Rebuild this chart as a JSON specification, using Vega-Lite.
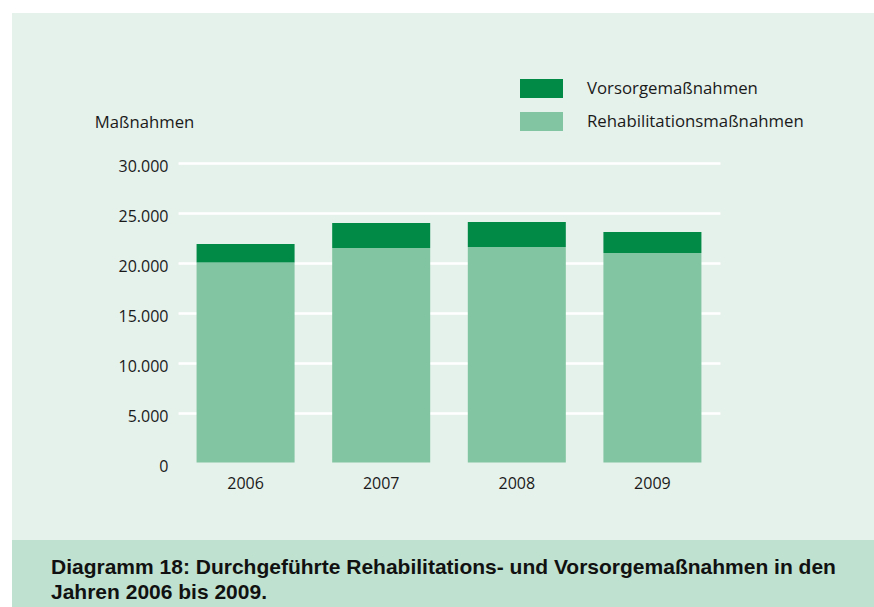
{
  "$schema": "https://vega.github.io/schema/vega-lite/v6.json",
  "background": "white",
  "padding": {"left": 12, "top": 13, "right": 0, "bottom": 0},
  "spacing": 0,
  "bounds": "flush",
  "config": {"view": {"stroke": null}},
  "vconcat": [
    {
      "width": 862,
      "height": 527,
      "view": {"fill": "#e5f1eb", "stroke": null},
      "data": {"values": [
        {"year": "2006", "type": "Rehabilitationsmaßnahmen", "value": 20000},
        {"year": "2006", "type": "Vorsorgemaßnahmen", "value": 1850},
        {"year": "2007", "type": "Rehabilitationsmaßnahmen", "value": 21450},
        {"year": "2007", "type": "Vorsorgemaßnahmen", "value": 2500},
        {"year": "2008", "type": "Rehabilitationsmaßnahmen", "value": 21550},
        {"year": "2008", "type": "Vorsorgemaßnahmen", "value": 2500},
        {"year": "2009", "type": "Rehabilitationsmaßnahmen", "value": 20950},
        {"year": "2009", "type": "Vorsorgemaßnahmen", "value": 2100}
      ]},
      "mark": {"type": "bar"},
      "encoding": {
        "x": {
          "field": "year", "type": "nominal",
          "scale": {"range": [166, 708], "paddingInner": 0.2773, "paddingOuter": 0.137},
          "axis": {
            "orient": "bottom", "offset": -77.5, "domain": false, "ticks": false, "tickSize": 0,
            "labelPadding": 25.5, "labelBaseline": "alphabetic", "labelAngle": 0,
            "labelFont": "Open Sans", "labelFontSize": 16, "labelColor": "#1a1a1a", "title": null
          }
        },
        "y": {
          "field": "value", "type": "quantitative", "stack": "zero",
          "scale": {"domain": [0, 30000], "range": [449.5, 149.5], "nice": false, "zero": true},
          "axis": {
            "values": [0, 5000, 10000, 15000, 20000, 25000, 30000],
            "labelExpr": "replace(format(datum.value, ','), ',', '.')",
            "offset": -166, "domain": false, "ticks": false, "tickSize": 0,
            "grid": true, "gridWidth": 2.5,
            "gridColor": {"condition": {"test": "datum.value === 0", "value": "transparent"}, "value": "#ffffff"},
            "labelPadding": 10, "labelOffset": 4, "labelFlush": false, "labelOverlap": false,
            "labelFont": "Open Sans", "labelFontSize": 16, "labelColor": "#1a1a1a",
            "title": "Maßnahmen", "titleAngle": 0, "titleX": -34, "titleY": 114,
            "titleAlign": "center", "titleBaseline": "alphabetic",
            "titleFont": "Open Sans", "titleFontSize": 16.7, "titleFontWeight": "normal", "titleColor": "#1a1a1a"
          }
        },
        "color": {
          "field": "type", "type": "nominal",
          "scale": {"domain": ["Vorsorgemaßnahmen", "Rehabilitationsmaßnahmen"], "range": ["#008a46", "#82c5a2"]},
          "legend": {
            "orient": "none", "legendX": 508, "legendY": 59, "title": null,
            "symbolType": "M-1,-0.44H1V0.44H-1Z", "symbolSize": 1849, "symbolStrokeWidth": 0,
            "symbolOpacity": 1,
            "clipHeight": 33, "rowPadding": 0, "padding": 0, "labelOffset": 24,
            "labelFont": "Open Sans", "labelFontSize": 16.8, "labelColor": "#1a1a1a", "labelLimit": 400
          }
        },
        "order": {"field": "type", "sort": "ascending"}
      }
    },
    {
      "width": 862,
      "height": 67,
      "view": {"fill": "#bfe1cf", "stroke": null},
      "data": {"values": []},
      "mark": {"type": "point"},
      "encoding": {},
      "title": {
        "text": ["Diagramm 18: Durchgeführte Rehabilitations- und Vorsorgemaßnahmen in den", "Jahren 2006 bis 2009."],
        "orient": "bottom", "anchor": "start", "frame": "group", "baseline": "alphabetic",
        "offset": -33, "dx": 39, "lineHeight": 25,
        "font": "Liberation Sans, Arial, sans-serif", "fontWeight": "bold", "fontSize": 21, "color": "#111111"
      }
    }
  ]
}
